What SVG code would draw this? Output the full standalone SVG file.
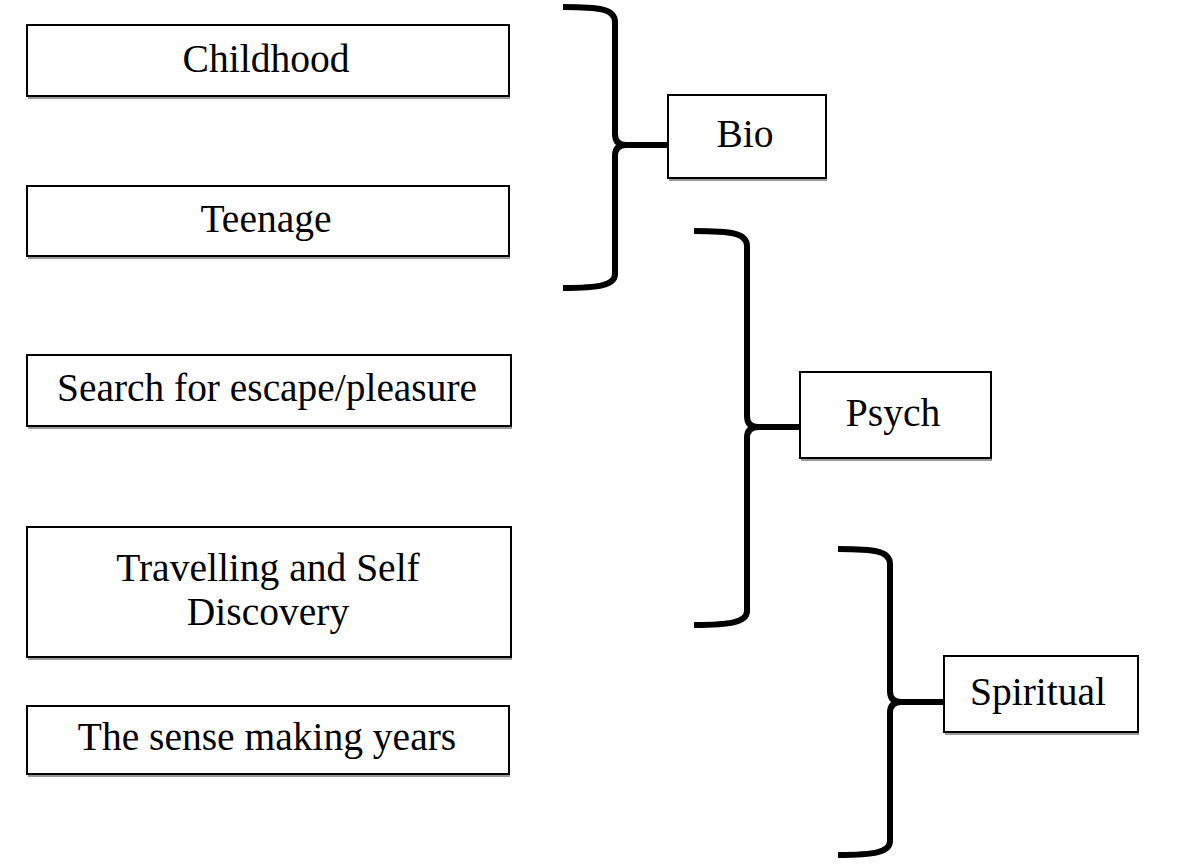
<svg xmlns="http://www.w3.org/2000/svg" width="1181" height="864" viewBox="0 0 1181 864">
<style>
.box{fill:#fff;stroke:#000;stroke-width:2}
.sh{fill:none;stroke:#9a9a9a;stroke-width:2}
.t{font-family:"Liberation Serif","Times New Roman",serif;font-size:39.5px;fill:#000;text-anchor:middle}
.br{fill:none;stroke:#000;stroke-width:6;stroke-linecap:butt;stroke-linejoin:round}
</style>
<rect width="1181" height="864" fill="#fff"/>
<g id="connectors">
<path class="br" d="M563,7 C600,7 615,9 615,22 L615,134 Q615,145 626,145 L668,145 M626,145 Q615,145 615,156 L615,274 C615,285 600,288 563,288"/>
<path class="br" d="M694,231 C731,231 747,233 747,246 L747,416 Q747,427 758,427 L800,427 M758,427 Q747,427 747,438 L747,611 C747,622 731,625 694,625"/>
<path class="br" d="M838,549 C875,549 890,551 890,564 L890,691 Q890,702 901,702 L944,702 M901,702 Q890,702 890,713 L890,841 C890,852 875,855 838,855"/>
</g>
<g id="childhood">
<line class="sh" x1="28" y1="98" x2="510" y2="98"/>
<rect class="box" x="27" y="25" width="482" height="71"/>
<text class="t" x="266" y="72">Childhood</text>
</g>
<g id="teenage">
<line class="sh" x1="28" y1="258" x2="510" y2="258"/>
<rect class="box" x="27" y="186" width="482" height="70"/>
<text class="t" x="266" y="232">Teenage</text>
</g>
<g id="search">
<line class="sh" x1="28" y1="428" x2="512" y2="428"/>
<rect class="box" x="27" y="355" width="484" height="71"/>
<text class="t" x="267" y="401" textLength="420" lengthAdjust="spacingAndGlyphs">Search for escape/pleasure</text>
</g>
<g id="travelling">
<line class="sh" x1="28" y1="659" x2="512" y2="659"/>
<rect class="box" x="27" y="527" width="484" height="130"/>
<text class="t" x="268" y="581">Travelling and Self</text>
<text class="t" x="268" y="625">Discovery</text>
</g>
<g id="sensemaking">
<line class="sh" x1="28" y1="776" x2="510" y2="776"/>
<rect class="box" x="27" y="706" width="482" height="68"/>
<text class="t" x="267" y="750">The sense making years</text>
</g>
<g id="bio">
<line class="sh" x1="669" y1="180" x2="827" y2="180"/>
<rect class="box" x="668" y="95" width="158" height="83"/>
<text class="t" x="745" y="147">Bio</text>
</g>
<g id="psych">
<line class="sh" x1="801" y1="460" x2="992" y2="460"/>
<rect class="box" x="800" y="372" width="191" height="86"/>
<text class="t" x="893" y="426">Psych</text>
</g>
<g id="spiritual">
<line class="sh" x1="945" y1="734" x2="1139" y2="734"/>
<rect class="box" x="944" y="656" width="194" height="76"/>
<text class="t" x="1038" y="705">Spiritual</text>
</g>
</svg>
